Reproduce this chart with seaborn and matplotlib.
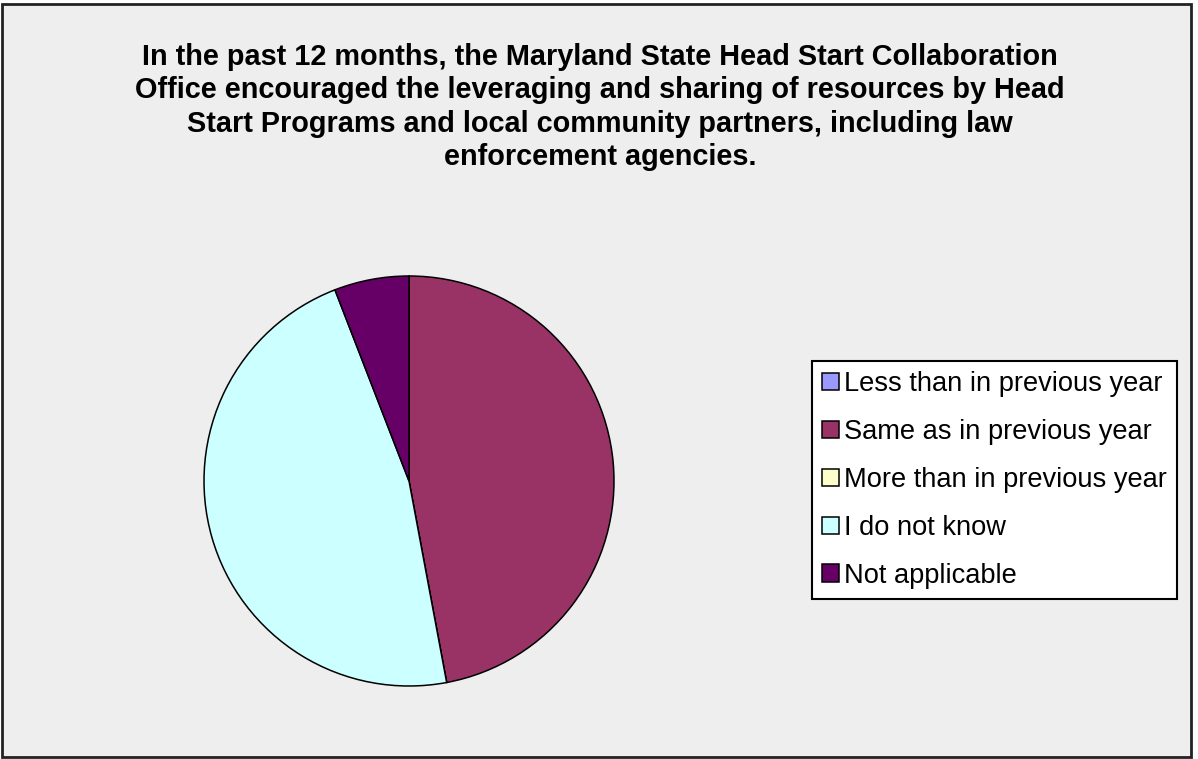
import matplotlib
matplotlib.use("Agg")
import matplotlib.pyplot as plt
from matplotlib.patches import Rectangle
import seaborn as sns

# survey answers (counts)
categories = [
    "Less than in previous year",
    "Same as in previous year",
    "More than in previous year",
    "I do not know",
    "Not applicable",
]
counts = [0, 8, 0, 8, 1]
colors = ["#9999FF", "#993366", "#FFFFCC", "#CCFFFF", "#660066"]

title = ("In the past 12 months, the Maryland State Head Start Collaboration\n"
         "Office encouraged the leveraging and sharing of resources by Head\n"
         "Start Programs and local community partners, including law\n"
         "enforcement agencies.")


def main():
    sns.set_style("white")
    plt.rcParams["font.family"] = ["Liberation Sans", "DejaVu Sans"]

    W, H = 1198, 759
    fig = plt.figure(figsize=(W / 100, H / 100), dpi=100)
    fig.patch.set_facecolor("white")

    # chart area with border
    fig.patches.append(Rectangle((2 / W, 2 / H), 1189 / W, 753 / H,
                                 transform=fig.transFigure, facecolor="#EEEEEE",
                                 edgecolor="#222222", linewidth=2, zorder=-10))

    fig.text(600 / W, 1 - 107 / H, title, ha="center", va="center",
             fontsize=20.8, fontweight="bold", linespacing=1.24, color="black")

    cx, cy, r = 409, 481, 205
    ax = fig.add_axes([(cx - r) / W, (H - cy - r) / H, 2 * r / W, 2 * r / H])
    wedges, _ = ax.pie(counts, colors=colors, startangle=90, counterclock=False,
                       radius=1.0,
                       wedgeprops=dict(edgecolor="black", linewidth=1.1))
    ax.set_xlim(-1.0, 1.0)
    ax.set_ylim(-1.0, 1.0)
    ax.set_aspect("equal")
    ax.axis("off")

    leg = fig.legend(wedges, categories, loc="center left",
                     bbox_to_anchor=(812 / W, 1 - 480 / H),
                     fontsize=19.6, frameon=True, fancybox=False,
                     edgecolor="black", facecolor="white", framealpha=1,
                     labelcolor="black",
                     handlelength=0.6, handleheight=0.6, handletextpad=0.2,
                     labelspacing=0.8, borderpad=0.38, borderaxespad=0)
    leg.get_frame().set_linewidth(1.5)

    fig.savefig("out.png", dpi=100)


if __name__ == "__main__":
    main()
